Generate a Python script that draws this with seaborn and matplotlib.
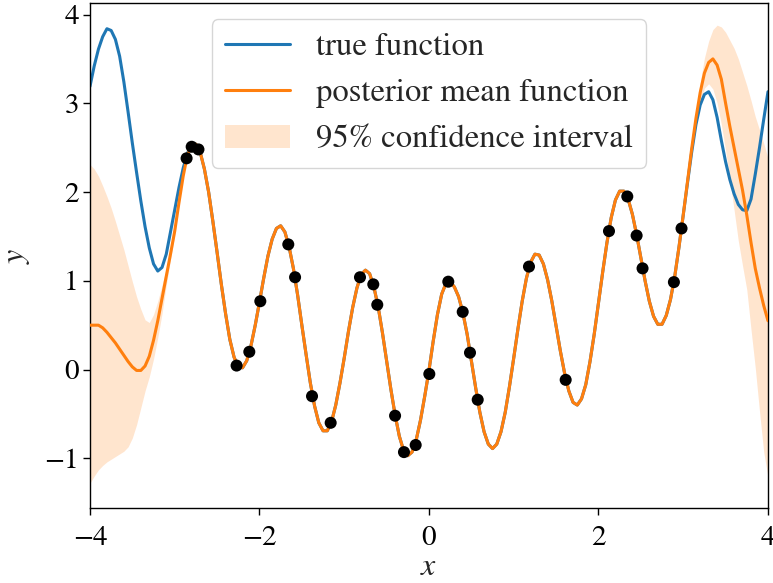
import numpy as np
import pandas as pd
import matplotlib
matplotlib.use("Agg")
import matplotlib.pyplot as plt
import seaborn as sns

# Evaluation grid shared by the two curves (step 0.05 on [-4, 4])
x_grid = np.round(np.linspace(-4.0, 4.0, 161), 2)

true_fn = [
    3.19, 3.42, 3.61, 3.75, 3.84, 3.82, 3.72, 3.53, 3.24, 2.90,
    2.55, 2.22, 1.90, 1.61, 1.37, 1.19, 1.11, 1.15, 1.30, 1.55,
    1.80, 2.05, 2.27, 2.44, 2.52, 2.54, 2.45, 2.26, 2.00, 1.67,
    1.32, 0.96, 0.63, 0.34, 0.14, 0.03, 0.02, 0.10, 0.27, 0.50,
    0.76, 1.03, 1.28, 1.47, 1.59, 1.62, 1.55, 1.38, 1.14, 0.84,
    0.50, 0.17, -0.15, -0.41, -0.60, -0.69, -0.69, -0.59, -0.40, -0.15,
    0.13, 0.43, 0.70, 0.92, 1.07, 1.12, 1.08, 0.93, 0.71, 0.42,
    0.10, -0.22, -0.51, -0.75, -0.91, -0.97, -0.93, -0.79, -0.57, -0.30,
    -0.01, 0.32, 0.62, 0.85, 0.97, 0.99, 0.93, 0.82, 0.64, 0.40,
    0.10, -0.20, -0.48, -0.70, -0.84, -0.89, -0.84, -0.70, -0.48, -0.19,
    0.13, 0.46, 0.77, 1.03, 1.21, 1.30, 1.29, 1.19, 1.01, 0.77,
    0.49, 0.21, -0.04, -0.24, -0.37, -0.40, -0.33, -0.17, 0.09, 0.40,
    0.75, 1.10, 1.43, 1.71, 1.91, 2.01, 2.01, 1.92, 1.75, 1.52,
    1.26, 1.00, 0.77, 0.60, 0.51, 0.51, 0.61, 0.79, 1.05, 1.38,
    1.74, 2.10, 2.45, 2.76, 2.98, 3.10, 3.13, 3.04, 2.84, 2.58,
    2.34, 2.14, 1.98, 1.86, 1.80, 1.79, 1.92, 2.20, 2.50, 2.82,
    3.13,
]

posterior_mean = [
    0.50, 0.50, 0.50, 0.47, 0.42, 0.36, 0.30, 0.23, 0.16, 0.09,
    0.03, -0.01, -0.01, 0.04, 0.15, 0.33, 0.55, 0.80, 1.05, 1.30,
    1.56, 1.88, 2.18, 2.42, 2.52, 2.54, 2.45, 2.26, 2.00, 1.67,
    1.32, 0.96, 0.63, 0.34, 0.14, 0.03, 0.02, 0.10, 0.27, 0.50,
    0.76, 1.03, 1.28, 1.47, 1.59, 1.62, 1.55, 1.38, 1.14, 0.84,
    0.50, 0.17, -0.15, -0.41, -0.60, -0.69, -0.69, -0.59, -0.40, -0.15,
    0.13, 0.43, 0.70, 0.92, 1.07, 1.12, 1.08, 0.93, 0.71, 0.42,
    0.10, -0.22, -0.51, -0.75, -0.91, -0.97, -0.93, -0.79, -0.57, -0.30,
    -0.01, 0.32, 0.62, 0.85, 0.97, 0.99, 0.93, 0.82, 0.64, 0.40,
    0.10, -0.20, -0.48, -0.70, -0.84, -0.89, -0.84, -0.70, -0.48, -0.19,
    0.13, 0.46, 0.77, 1.03, 1.21, 1.30, 1.29, 1.19, 1.01, 0.77,
    0.49, 0.21, -0.04, -0.24, -0.37, -0.40, -0.33, -0.17, 0.09, 0.40,
    0.75, 1.10, 1.43, 1.71, 1.91, 2.01, 2.01, 1.92, 1.75, 1.52,
    1.26, 1.00, 0.77, 0.60, 0.51, 0.51, 0.61, 0.79, 1.05, 1.38,
    1.74, 2.12, 2.49, 2.83, 3.12, 3.34, 3.46, 3.50, 3.43, 3.27,
    3.00, 2.74, 2.50, 2.26, 2.02, 1.74, 1.43, 1.14, 0.92, 0.72,
    0.55,
]

# 95% band where it opens up, left of the data (x = -4.00 .. -2.85)
band_left_lower = [
    -1.28, -1.20, -1.13, -1.08, -1.04, -1.01, -0.98, -0.95, -0.92, -0.87,
    -0.77, -0.62, -0.43, -0.24, -0.08, 0.12, 0.36, 0.63, 0.95, 1.24,
    1.52, 1.86, 2.17, 2.42,
]
band_left_upper = [
    2.31, 2.26, 2.18, 2.07, 1.95, 1.82, 1.67, 1.51, 1.35, 1.17,
    0.99, 0.82, 0.68, 0.56, 0.53, 0.62, 0.77, 0.95, 1.14, 1.35,
    1.59, 1.90, 2.19, 2.42,
]
# ... and right of the data (x = 2.85 .. 4.00)
band_right_lower = [
    0.79, 1.05, 1.38, 1.73, 2.10, 2.45, 2.76, 3.01, 3.17, 3.22,
    3.16, 3.00, 2.76, 2.47, 2.14, 1.80, 1.45, 1.17, 0.90, 0.45,
    0.02, -0.47, -0.93, -1.21,
]
band_right_upper = [
    0.79, 1.05, 1.38, 1.75, 2.14, 2.53, 2.90, 3.23, 3.51, 3.70,
    3.83, 3.88, 3.86, 3.80, 3.71, 3.62, 3.50, 3.35, 3.20, 3.03,
    2.85, 2.70, 2.55, 2.38,
]

# Observations used to condition the GP
obs_x = [-2.86, -2.80, -2.72, -2.27, -2.12, -1.99, -1.66, -1.58, -1.38, -1.16,
         -0.814, -0.657, -0.61, -0.40, -0.295, -0.157, 0.004, 0.228, 0.398, 0.484,
         0.575, 1.18, 1.613, 2.124, 2.34, 2.45, 2.52, 2.89, 2.98]
obs_y = [2.38, 2.51, 2.48, 0.045, 0.20, 0.77, 1.41, 1.04, -0.30, -0.60,
         1.04, 0.96, 0.73, -0.52, -0.93, -0.85, -0.05, 0.99, 0.65, 0.19,
         -0.34, 1.16, -0.116, 1.56, 1.95, 1.51, 1.14, 0.985, 1.59]

sns.set_theme(style="ticks")
plt.rcParams["font.family"] = ["STIXGeneral", "DejaVu Serif"]
plt.rcParams["mathtext.fontset"] = "stix"

BLUE = "#1f77b4"
ORANGE = "#ff7f0e"

fig, ax = plt.subplots(figsize=(7.73, 5.83), dpi=100)
fig.subplots_adjust(left=0.1164, right=0.9935, top=0.9949, bottom=0.1286)

curves = pd.DataFrame({"x": x_grid, "true": true_fn, "mean": posterior_mean})
n_l, n_r = len(band_left_lower), len(band_right_lower)

band = ax.fill_between(x_grid[:n_l], band_left_lower, band_left_upper,
                       color=ORANGE, alpha=0.2, linewidth=0, zorder=1)
ax.fill_between(x_grid[-n_r:], band_right_lower, band_right_upper,
                color=ORANGE, alpha=0.2, linewidth=0, zorder=1)

sns.lineplot(data=curves, x="x", y="true", color=BLUE, linewidth=2.2, ax=ax,
             label="true function", zorder=2)
sns.lineplot(data=curves, x="x", y="mean", color=ORANGE, linewidth=2.2, ax=ax,
             label="posterior mean function", zorder=3)
sns.scatterplot(x=obs_x, y=obs_y, color="black", s=75, edgecolor="none",
                zorder=5, ax=ax, legend=False)

handles, labels = ax.get_legend_handles_labels()
lut = dict(zip(labels, handles))
ax.legend(
    [lut["true function"], lut["posterior mean function"], band],
    ["true function", "posterior mean function", "95% confidence interval"],
    loc="upper center", fontsize=23.5, frameon=True, fancybox=True,
    framealpha=0.8, edgecolor="0.8", handlelength=2.0,
)

ax.set_xlim(-4, 4)
ax.set_ylim(-1.56, 4.13)
ax.set_xticks([-4, -2, 0, 2, 4])
ax.set_yticks([-1, 0, 1, 2, 3, 4])
ax.set_xlabel("$x$", fontsize=23, labelpad=1)
ax.set_ylabel("$y$", fontsize=23, labelpad=9)
ax.tick_params(direction="out", length=5, width=1, labelsize=21, colors="black")
ax.tick_params(axis="x", pad=8)
ax.tick_params(axis="y", pad=3)
for s in ax.spines.values():
    s.set_visible(True)
    s.set_color("black")
    s.set_linewidth(1.0)

fig.savefig("out.png", dpi=100)
